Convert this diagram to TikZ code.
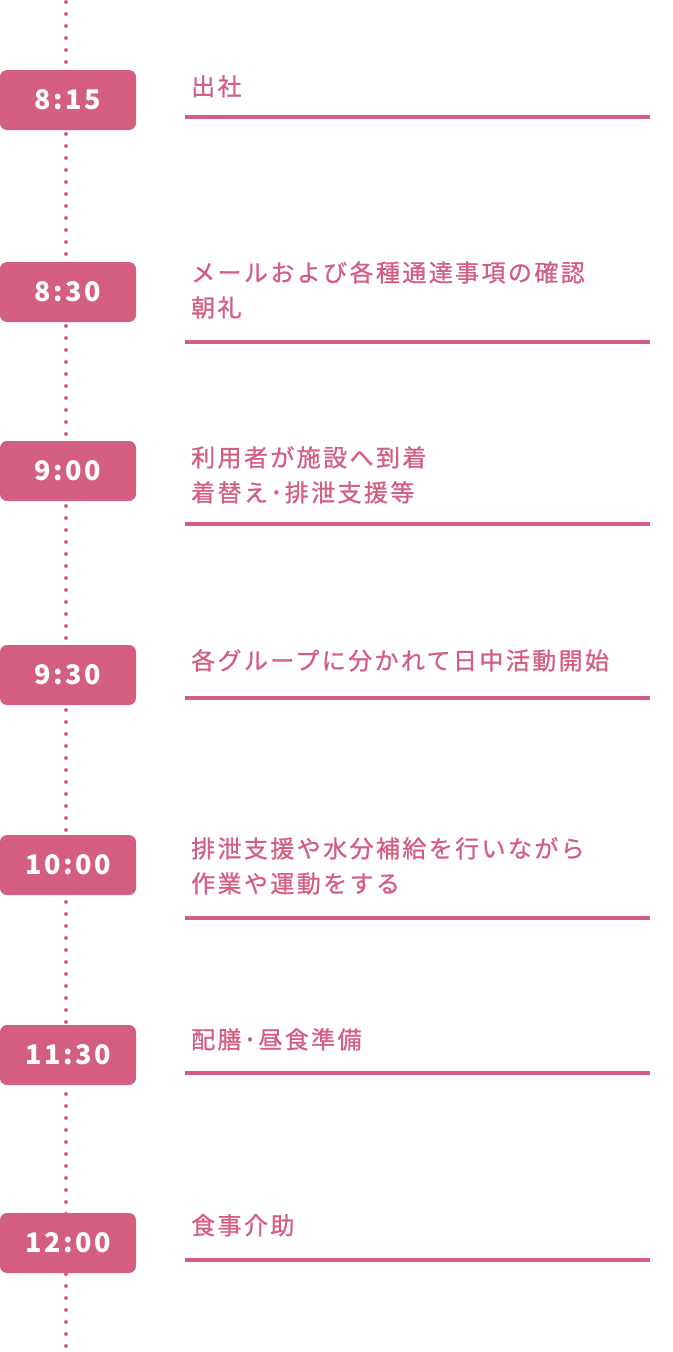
\documentclass[tikz,border=0pt]{standalone}
\usepackage{fontspec}
\usepackage{xcolor}
\usetikzlibrary{positioning}
\newfontfamily\jpfont{Noto Sans CJK JP}[LetterSpace=10, FakeBold=0.9]
\newfontfamily\timefont{Noto Sans CJK JP}[LetterSpace=9]
\definecolor{rose}{HTML}{D45E80}

\begin{document}
\begin{tikzpicture}[x=1pt, y=-1pt,
    timebox/.style={fill=rose, rounded corners=7pt, minimum width=136pt, minimum height=60pt,
        inner sep=0pt, text=white, font=\timefont\bfseries\fontsize{27}{27}\selectfont},
    task/.style={anchor=north west, inner sep=0pt, align=left, text=rose,
        font=\jpfont\fontsize{24}{35}\selectfont},
    taskrule/.style={draw=rose, line width=4pt},
    dotline/.style={draw=rose, line width=4pt, line cap=round, dash pattern=on 0pt off 12pt}]
    \useasboundingbox (0,0) rectangle (672,1352);

    % timeline
    \coordinate (top) at (66,2);
    \coordinate (bottom) at (66,1347);
    \draw[dotline] (top) -- (bottom);

    % times
    \node[timebox] (t0815) at (68,100) {8:15};
    \node[timebox] (t0830) at (68,292) {8:30};
    \node[timebox] (t0900) at (68,471) {9:00};
    \node[timebox] (t0930) at (68,675) {9:30};
    \node[timebox] (t1000) at (68,865) {10:00};
    \node[timebox] (t1130) at (68,1055) {11:30};
    \node[timebox] (t1200) at (68,1243) {12:00};

    % tasks
    \node[task] (a0815) at (191,75) {出社};
    \node[task] (a0830) at (191,261) {メールおよび各種通達事項の確認\\朝礼};
    \node[task] (a0900) at (191,446) {利用者が施設へ到着\\着替え･排泄支援等};
    \node[task] (a0930) at (191,649) {各グループに分かれて日中活動開始};
    \node[task] (a1000) at (191,837) {排泄支援や水分補給を行いながら\\作業や運動をする};
    \node[task] (a1130) at (191,1028) {配膳･昼食準備};
    \node[task] (a1200) at (191,1214) {食事介助};

    % underlines
    \draw[taskrule] (185,117) -- (650,117);
    \draw[taskrule] (185,342) -- (650,342);
    \draw[taskrule] (185,524) -- (650,524);
    \draw[taskrule] (185,698) -- (650,698);
    \draw[taskrule] (185,918) -- (650,918);
    \draw[taskrule] (185,1073) -- (650,1073);
    \draw[taskrule] (185,1260) -- (650,1260);
\end{tikzpicture}
\end{document}
